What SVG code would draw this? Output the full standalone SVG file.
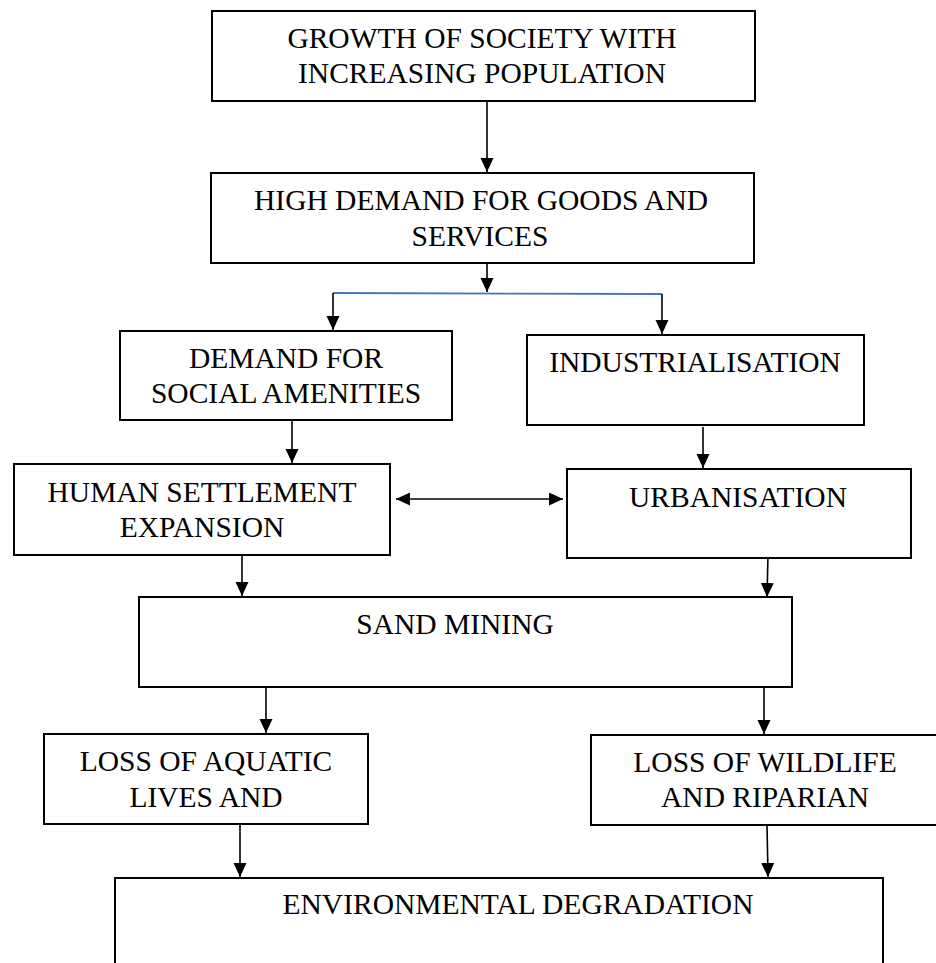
<svg xmlns="http://www.w3.org/2000/svg" width="936" height="963" viewBox="0 0 936 963">
  <style>
    .box { fill: #ffffff; stroke: #000000; stroke-width: 2; }
    .lbl { font-family: "Liberation Serif", "Times New Roman", serif; font-size: 29.5px; fill: #000000; text-anchor: middle; }
    .con { stroke: #000000; stroke-width: 1.6; fill: none; }
    .blue { stroke: #4472C4; stroke-width: 1.8; fill: none; }
  </style>
  <defs>
    <marker id="ah" markerUnits="userSpaceOnUse" markerWidth="14" markerHeight="16" refX="14" refY="6.5" orient="auto">
      <path d="M0,0 L14,6.5 L0,13 z" fill="#000000"/>
    </marker>
    <marker id="ahs" markerUnits="userSpaceOnUse" markerWidth="14" markerHeight="16" refX="0" refY="6.5" orient="auto">
      <path d="M14,0 L0,6.5 L14,13 z" fill="#000000"/>
    </marker>
  </defs>
  <rect width="936" height="963" fill="#ffffff"/>

  <g id="connectors">
    <line class="con" x1="487" y1="101" x2="487" y2="172" marker-end="url(#ah)"/>
    <line class="con" x1="487" y1="258" x2="487" y2="292" marker-end="url(#ah)"/>
    <line class="blue" x1="333" y1="293" x2="662" y2="294"/>
    <line class="con" x1="333" y1="293" x2="333" y2="330" marker-end="url(#ah)"/>
    <line class="con" x1="662" y1="294" x2="662" y2="334" marker-end="url(#ah)"/>
    <line class="con" x1="292" y1="420" x2="292" y2="463" marker-end="url(#ah)"/>
    <line class="con" x1="703" y1="427" x2="703" y2="468" marker-end="url(#ah)"/>
    <line class="con" x1="396" y1="499" x2="563" y2="499" marker-start="url(#ahs)" marker-end="url(#ah)"/>
    <line class="con" x1="242" y1="550" x2="242" y2="596" marker-end="url(#ah)"/>
    <line class="con" x1="768" y1="555" x2="767" y2="597" marker-end="url(#ah)"/>
    <line class="con" x1="266" y1="685" x2="266" y2="733" marker-end="url(#ah)"/>
    <line class="con" x1="764" y1="685" x2="764" y2="734" marker-end="url(#ah)"/>
    <line class="con" x1="240" y1="824" x2="240" y2="877" marker-end="url(#ah)"/>
    <line class="con" x1="767" y1="825" x2="768" y2="877" marker-end="url(#ah)"/>
  </g>

  <g id="growth">
    <rect class="box" x="212" y="11" width="543" height="90"/>
    <text class="lbl" x="482" y="48">GROWTH OF SOCIETY WITH</text>
    <text class="lbl" x="482" y="83">INCREASING POPULATION</text>
  </g>
  <g id="demand-goods">
    <rect class="box" x="211" y="173" width="543" height="90"/>
    <text class="lbl" x="481" y="210">HIGH DEMAND FOR GOODS AND</text>
    <text class="lbl" x="480" y="246">SERVICES</text>
  </g>
  <g id="social-amenities">
    <rect class="box" x="120" y="331" width="332" height="89"/>
    <text class="lbl" x="286" y="368">DEMAND FOR</text>
    <text class="lbl" x="286" y="403">SOCIAL AMENITIES</text>
  </g>
  <g id="industrialisation">
    <rect class="box" x="527" y="335" width="337" height="90"/>
    <text class="lbl" x="695" y="372">INDUSTRIALISATION</text>
  </g>
  <g id="human-settlement">
    <rect class="box" x="14" y="464" width="376" height="91"/>
    <text class="lbl" x="202" y="502">HUMAN SETTLEMENT</text>
    <text class="lbl" x="202" y="537">EXPANSION</text>
  </g>
  <g id="urbanisation">
    <rect class="box" x="567" y="469" width="344" height="89"/>
    <text class="lbl" x="738" y="507">URBANISATION</text>
  </g>
  <g id="sand-mining">
    <rect class="box" x="139" y="597" width="653" height="90"/>
    <text class="lbl" x="455" y="634">SAND MINING</text>
  </g>
  <g id="aquatic">
    <rect class="box" x="44" y="734" width="324" height="90"/>
    <text class="lbl" x="206" y="771">LOSS OF AQUATIC</text>
    <text class="lbl" x="206" y="807">LIVES AND</text>
  </g>
  <g id="wildlife">
    <rect class="box" x="591" y="735" width="360" height="90"/>
    <text class="lbl" x="765" y="772">LOSS OF WILDLIFE</text>
    <text class="lbl" x="765" y="807">AND RIPARIAN</text>
  </g>
  <g id="environmental">
    <rect class="box" x="115" y="878" width="768" height="100"/>
    <text class="lbl" x="518" y="914">ENVIRONMENTAL DEGRADATION</text>
  </g>
</svg>
